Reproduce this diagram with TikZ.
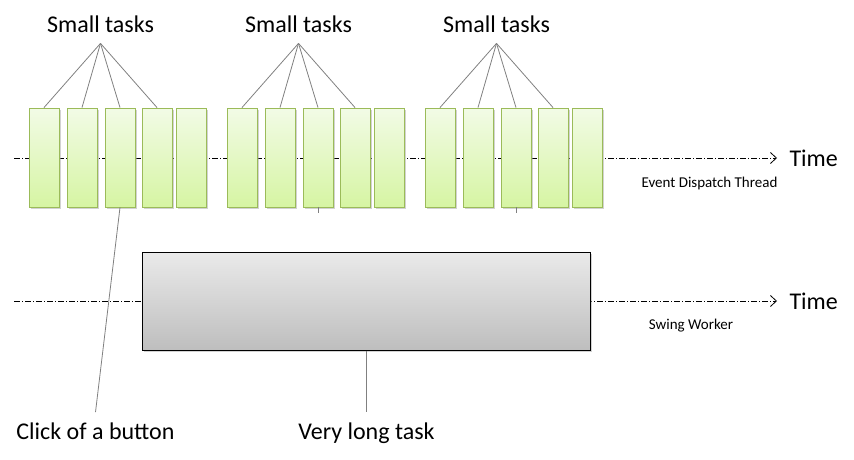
\documentclass[tikz,border=0pt]{standalone}
\usepackage{fontspec}
\setmainfont{Carlito}
\usepackage{tikz}
\usetikzlibrary{positioning,arrows.meta,shadows}
\newcommand{\bigfont}{\fontsize{24}{28}\selectfont}
\newcommand{\notefont}{\fontsize{15}{18}\selectfont}
\definecolor{tasktop}{RGB}{242,251,230}
\definecolor{taskbot}{RGB}{214,245,163}
\definecolor{taskedge}{RGB}{155,187,89}
\definecolor{longtop}{RGB}{234,234,234}
\definecolor{longbot}{RGB}{190,190,190}
\begin{document}
\begin{tikzpicture}[x=1pt,y=-1pt,
  task/.style={draw=taskedge,line width=0.9pt,top color=tasktop,bottom color=taskbot,
    minimum width=30pt,minimum height=99pt,inner sep=0pt,
    drop shadow={shadow xshift=1.5pt,shadow yshift=-1.5pt,fill=black!35,opacity=0.5}},
  longtask/.style={draw=black,line width=1pt,top color=longtop,bottom color=longbot,
    minimum width=448pt,minimum height=98pt,inner sep=0pt,
    drop shadow={shadow xshift=1.5pt,shadow yshift=-1.5pt,fill=black!35,opacity=0.5}},
  conn/.style={draw=black!50,line width=0.8pt},
  timeline/.style={line width=0.8pt,dash pattern=on 6pt off 2pt on 1pt off 2pt,
    -{Straight Barb[length=6pt,width=11pt]}},
  lbl/.style={font=\bigfont,anchor=base},
  tlbl/.style={lbl,inner ysep=11pt},
  blbl/.style={lbl,inner ysep=10pt},
  note/.style={font=\notefont,anchor=base}
]
\useasboundingbox (0,0) rectangle (854,459);

% Time axes
\coordinate (edtstart) at (14,158);
\coordinate (edtend) at (777,158);
\coordinate (swstart) at (14,301);
\coordinate (swend) at (777,301);
\draw[timeline] (edtstart) -- (edtend);
\draw[timeline] (swstart) -- (swend);
\node[font=\bigfont,right=9pt of edtend] (edttime) {Time};
\node[font=\bigfont,right=9pt of swend] (swtime) {Time};
\node[note] (edtname) at (709.5,187) {Event Dispatch Thread};
\node[note] (swname) at (691,329) {Swing Worker};

% Small tasks on the event dispatch thread
\foreach \g/\gx in {1/44,2/242,3/440} {
  \foreach \i/\dx in {1/0,2/38,3/76,4/113,5/147} {
    \node[task] (t\g\i) at (\gx+\dx,157.5) {};
  }
  \node[tlbl] (small\g) at (\gx+56.5,32) {Small tasks};
  \foreach \i in {1,...,4} { \draw[conn] (small\g.south) -- (t\g\i.north); }
}

% little stubs under the third boxes
\foreach \g in {2,3} {
  \coordinate[below=6pt of t\g3.south] (stub\g);
  \draw[conn] (t\g3.south) -- (stub\g);
}

% Very long task on the swing worker
\node[longtask] (long) at (366.5,301) {};

% Bottom labels
\node[blbl] (click) at (95.5,439) {Click of a button};
\node[blbl] (vlt) at (366.5,439) {Very long task};
\draw[conn] (t13.south) -- (click.north);
\draw[conn] (long.south) -- (vlt.north);

\end{tikzpicture}
\end{document}
